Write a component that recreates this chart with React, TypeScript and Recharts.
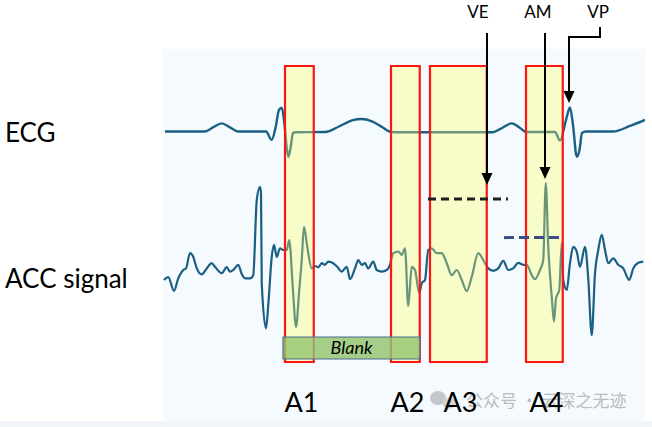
import React from 'react';
import {
  ComposedChart, Line, XAxis, YAxis, ReferenceArea, ReferenceLine, ReferenceDot, Customized,
} from 'recharts';

// surface ECG, time in ms and amplitude in mV
const ecgTime = [8, 168, 200, 235, 268, 300, 412, 435, 450, 464, 475, 484, 496, 502, 510, 520, 532, 648, 708, 756, 795, 836, 876, 912, 948, 1320, 1348, 1395, 1428, 1452, 1568, 1588, 1612, 1628, 1640, 1655, 1666, 1676, 1692, 1800, 1868, 1928];
const ecgMv = [0, 0, 0.17, 0.34, 0.17, 0, 0, -0.35, 0.15, 0.9, 0.99, 0.48, -0.77, -1.05, -0.69, -0.06, -0.03, -0.02, 0.23, 0.46, 0.52, 0.42, 0.19, -0.02, -0.03, -0.03, 0.1, 0.34, 0.15, -0.02, -0.02, -0.38, 0.48, 1.0, 0.27, -1.05, -0.77, -0.06, 0, 0, 0.23, 0.48];

// accelerometer signal, time in ms and amplitude in g
const accTime = [4, 21, 44, 61, 81, 92, 108, 121, 135, 155, 175, 195, 208, 235, 255, 268, 281, 301, 315, 328, 348, 361, 375, 388, 392, 395, 412, 421, 435, 444, 455, 468, 481, 495, 505, 519, 532, 545, 555, 564, 577, 595, 608, 621, 635, 648, 661, 681, 697, 715, 735, 748, 768, 781, 795, 808, 821, 841, 855, 875, 895, 908, 921, 941, 955, 968, 981, 995, 1008, 1025, 1035, 1048, 1061, 1075, 1095, 1115, 1135, 1155, 1175, 1195, 1215, 1235, 1261, 1281, 1301, 1321, 1341, 1361, 1381, 1401, 1421, 1441, 1455, 1475, 1488, 1508, 1521, 1531, 1541, 1555, 1564, 1572, 1585, 1595, 1601, 1615, 1628, 1641, 1655, 1668, 1688, 1701, 1715, 1728, 1741, 1755, 1768, 1781, 1801, 1821, 1841, 1865, 1881, 1901, 1921];
const accG = [-0.30, -0.23, -0.57, -0.26, -0.05, -0.01, 0.37, 0.28, -0.01, -0.16, -0.01, 0.12, 0.03, -0.13, 0.02, -0.09, -0.05, 0.08, -0.15, -0.26, -0.26, -0.18, 1.70, 2.03, 1.87, -0.38, -1.51, -0.93, 0.28, 0.58, 0.28, 0.49, 0.45, 0.45, 0.70, -0.47, -1.47, -0.55, 0.20, 1.03, 0.53, -0.01, 0.05, 0.02, 0.12, 0.08, 0.16, 0.12, 0.03, -0.09, 0.03, -0.28, -0.01, 0.20, 0.08, 0.12, -0.01, 0.16, -0.05, -0.09, -0.05, 0.08, 0.37, 0.41, 0.33, 0.49, -0.95, 0.03, -0.05, -0.63, -0.38, -0.30, 0.45, 0.49, 0.37, 0.37, 0.12, -0.18, -0.05, -0.30, -0.58, -0.22, 0.37, 0.20, -0.01, -0.07, -0.01, 0.18, -0.05, -0.01, 0.13, 0.08, 0.08, -0.18, -0.28, -0.05, 0.20, 2.12, 0.53, -0.72, -1.34, -0.76, -0.55, 0.62, -0.30, -0.55, 0.12, 0.53, 0.41, 0.03, 0.53, -0.26, -1.68, -0.13, 0.45, 0.83, 0.45, 0.12, 0.24, 0.08, -0.01, -0.30, -0.01, 0.13, 0.16];

// sensing windows (ms)
const windowNames = ['A1', 'A2', 'A3', 'A4'];
const windowStart = [488, 912, 1068, 1452];
const windowEnd = [603, 1027, 1295, 1599];
const blankStart = 480;
const blankEnd = 1028;

// event markers (ms)
const veTime = 1296;
const amTime = 1528;
const vpTime = 1624;
const vpElbowTime = 1748;

// detection thresholds (g) and the span they are drawn over (ms)
const veThreshold = 1.725;
const veSpan = [1060, 1380];
const amThreshold = 0.76;
const amSpan = [1364, 1600];

const ecgData = ecgTime.map((t, i) => ({ t, ecg: ecgMv[i] }));
const accData = accTime.map((t, i) => ({ t, acc: accG[i] }));

// layout
const W = 652;
const H = 427;
const ECG_ZERO = 131.5;
const ECG_PX = 24;
const ACC_ZERO = 268;
const ACC_PX = 40;
const FONT = 'Lato, "Open Sans", sans-serif';
const LINE = '#1a5f84';

const vpPath = [
  { t: vpElbowTime, f: 27 },
  { t: vpElbowTime, f: 37 },
  { t: vpTime, f: 37 },
  { t: vpTime, f: 93 },
];

const ArrowHead = (p: any) => (
  <path d={`M${p.cx},${p.cy} L${p.cx - 5.5},${p.cy - 12} L${p.cx + 5.5},${p.cy - 12} Z`} fill="#000" />
);

const label = (text: string, size: number, dx = 0, italic = false) => (p: any) => (
  <text x={p.cx + dx} y={p.cy} textAnchor="middle" fontSize={size} fontFamily={FONT}
    fontStyle={italic ? 'italic' : 'normal'} fill="#000">{text}</text>
);

const Overlay = () => (
  <g>
    <rect x={0} y={421} width={W} height={H - 421} fill="#f1f5f9" />
    <text x={5} y={142} fontSize={26} fontFamily={FONT} fill="#000">ECG</text>
    <text x={5} y={288} fontSize={26} fontFamily={FONT} fill="#000">ACC signal</text>
    <g opacity={0.75}>
      <ellipse cx={438} cy={398} rx={8} ry={7} fill="#b5b5b5" />
      <ellipse cx={449} cy={403} rx={6.5} ry={5.5} fill="#c8c8c8" />
      <text x={466} y={407} fontSize={17} fontFamily='"Noto Sans CJK SC", sans-serif' fill="#a8a8a8">公众号 · 云深之无迹</text>
    </g>
  </g>
);

export default function App() {
  return (
    <div style={{ position: 'absolute', left: 0, top: 0, width: W, height: H, background: '#fff' }}>
      <ComposedChart width={W} height={H} margin={{ top: 0, right: 7, bottom: 0, left: 163 }}>
        <XAxis type="number" dataKey="t" domain={[0, 1928]} allowDataOverflow hide />
        <YAxis yAxisId="ecg" type="number" domain={[(ECG_ZERO - H) / ECG_PX, ECG_ZERO / ECG_PX]} allowDataOverflow hide />
        <YAxis yAxisId="acc" type="number" domain={[(ACC_ZERO - H) / ACC_PX, ACC_ZERO / ACC_PX]} allowDataOverflow hide />
        <YAxis yAxisId="frame" type="number" domain={[0, H]} reversed allowDataOverflow hide />

        <ReferenceArea yAxisId="frame" x1={0} x2={1928} y1={49} y2={421} fill="#f4fafd" fillOpacity={1} stroke="none" zIndex={-200} />

        <Line yAxisId="ecg" data={ecgData} dataKey="ecg" type="monotone" stroke={LINE} strokeWidth={2.4} dot={false} isAnimationActive={false} />
        <Line yAxisId="acc" data={accData} dataKey="acc" type="monotone" stroke={LINE} strokeWidth={2.2} dot={false} isAnimationActive={false} />

        {windowNames.map((n, i) => (
          <ReferenceArea key={n} yAxisId="frame" x1={windowStart[i]} x2={windowEnd[i]} y1={66} y2={362}
            fill="#ffff66" fillOpacity={0.35} stroke="#ff1414" strokeWidth={2.2} zIndex={450} />
        ))}

        <ReferenceArea yAxisId="frame" x1={blankStart} x2={blankEnd} y1={337} y2={359}
          fill="#94c56f" fillOpacity={0.82} stroke="#4a6a8c" strokeWidth={1.2} zIndex={460} />

        <ReferenceLine yAxisId="acc" segment={[{ x: veSpan[0], y: veThreshold }, { x: veSpan[1], y: veThreshold }]}
          stroke="#1e1e1e" strokeWidth={3} strokeDasharray="8 5" zIndex={700} />
        <ReferenceLine yAxisId="acc" segment={[{ x: amSpan[0], y: amThreshold }, { x: amSpan[1], y: amThreshold }]}
          stroke="#3c4c84" strokeWidth={3} strokeDasharray="10 5" zIndex={700} />

        <ReferenceLine yAxisId="frame" segment={[{ x: veTime, y: 33 }, { x: veTime, y: 175 }]} stroke="#000" strokeWidth={2} zIndex={700} />
        <ReferenceLine yAxisId="frame" segment={[{ x: amTime, y: 33 }, { x: amTime, y: 169 }]} stroke="#000" strokeWidth={2} zIndex={700} />
        <Line yAxisId="frame" data={vpPath} dataKey="f" type="linear" stroke="#000" strokeWidth={2} dot={false} isAnimationActive={false} zIndex={700} />

        <ReferenceDot yAxisId="frame" x={veTime} y={185} shape={ArrowHead} zIndex={710} />
        <ReferenceDot yAxisId="frame" x={amTime} y={179} shape={ArrowHead} zIndex={710} />
        <ReferenceDot yAxisId="frame" x={vpTime} y={103} shape={ArrowHead} zIndex={710} />

        <ReferenceDot yAxisId="frame" x={veTime} y={18} shape={label('VE', 17, -9)} zIndex={800} />
        <ReferenceDot yAxisId="frame" x={amTime} y={18} shape={label('AM', 17, -7)} zIndex={800} />
        <ReferenceDot yAxisId="frame" x={vpElbowTime} y={18} shape={label('VP', 17, -2)} zIndex={800} />
        <ReferenceDot yAxisId="frame" x={(blankStart + blankEnd) / 2} y={354} shape={label('Blank', 18, 0, true)} zIndex={800} />

        {windowNames.map((n, i) => (
          <ReferenceDot key={'l' + n} yAxisId="frame" x={(windowStart[i] + windowEnd[i]) / 2} y={412}
            shape={label(n, 27, 2)} zIndex={800} />
        ))}

        <Customized component={<Overlay />} />
      </ComposedChart>
    </div>
  );
}
